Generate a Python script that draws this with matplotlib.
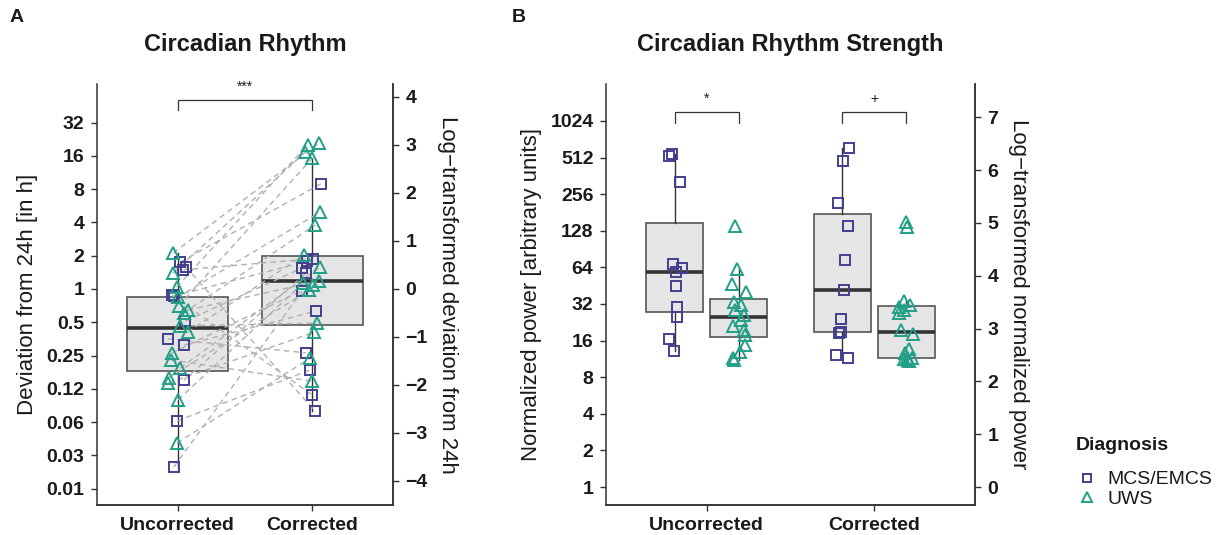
import numpy as np
import matplotlib
matplotlib.use('Agg')
import matplotlib.pyplot as plt
from matplotlib.lines import Line2D
from matplotlib import cbook

plt.rcParams['font.family'] = ['Liberation Sans', 'DejaVu Sans']

# ------------------------------------------------------------------ data
conditions = ['Uncorrected', 'Corrected']
diagnoses = ['MCS/EMCS', 'UWS']

# Panel A: log-transformed (ln) deviation from 24h, one entry per patient
a_diagnosis = ['MCS/EMCS'] * 11 + ['UWS'] * 16
a_uncorrected = [0.56, 0.46, 0.40, -0.13, -0.15, -0.67, -1.04, -1.17, -1.90, -2.75, -3.71,
                 0.75, 0.33, 0.04, -0.17, -0.35, -0.44, -0.50, -0.77, -0.90, -1.33,
                 -1.48, -1.65, -1.85, -1.96, -2.31, -3.21]
a_corrected = [2.19, -2.54, 0.63, -2.21, 0.58, 0.44, -1.33, -0.46, 0.33, -1.69, -0.04,
               3.04, 2.85, 3.00, 1.60, 2.73, 0.17, 1.33, -0.71, 0.71, 0.08,
               -1.92, 0.46, -0.02, -0.90, 0.13, -1.44]
# Panel A box statistics (ln), [Uncorrected, Corrected]
a_box_q1 = [-1.71, -0.75]
a_box_median = [-0.81, 0.17]
a_box_q3 = [-0.17, 0.69]
a_box_whislo = [-3.71, -2.54]
a_box_whishi = [0.75, 2.73]
a_left_ticks = [-6, -5, -4, -3, -2, -1, 0, 1, 2, 3, 4, 5]           # log2 exponents
a_left_labels = ['0.01', '0.03', '0.06', '0.12', '0.25', '0.5', '1', '2', '4', '8', '16', '32']
a_right_ticks = [-4, -3, -2, -1, 0, 1, 2, 3, 4]
a_signif = '***'

# Panel B: log-transformed (ln) normalized power
b_uncorrected_mcs = [6.30, 6.26, 5.78, 4.22, 4.14, 4.07, 3.81, 3.41, 3.21, 2.81, 2.58]
b_uncorrected_uws = [4.94, 4.12, 3.84, 3.70, 3.51, 3.45, 3.35, 3.25, 3.17, 3.05, 2.98,
                     2.88, 2.69, 2.56, 2.45, 2.40]
b_corrected_mcs = [6.42, 6.17, 5.38, 4.94, 4.30, 3.73, 3.18, 2.94, 2.92, 2.50, 2.45]
b_corrected_uws = [5.02, 4.93, 3.53, 3.45, 3.41, 3.35, 3.29, 2.97, 2.89, 2.62, 2.53,
                   2.45, 2.44, 2.42, 2.40, 2.38]
b_left_ticks = [0, 1, 2, 3, 4, 5, 6, 7, 8, 9, 10]                     # log2 exponents
b_left_labels = ['1', '2', '4', '8', '16', '32', '64', '128', '256', '512', '1024']
b_right_ticks = [0, 1, 2, 3, 4, 5, 6, 7]
b_signif = ['*', '+']

# ------------------------------------------------------------------ style
col = {'MCS/EMCS': '#423f8e', 'UWS': '#21a087'}
mk = {'MCS/EMCS': 's', 'UWS': '^'}
ms = {'MCS/EMCS': 6.8, 'UWS': 8.6}
ink = '#333333'
txt = '#1a1a1a'
box_fill = '#e5e5e5'
box_edge = '#555555'

W, H = 1227, 535
fig = plt.figure(figsize=(W / 100, H / 100), dpi=100)


def px_axes(l, r, t, b):
    return fig.add_axes([l / W, 1 - b / H, (r - l) / W, (b - t) / H])


def style(ax):
    ax.spines['top'].set_visible(False)
    for s in ['left', 'bottom', 'right']:
        ax.spines[s].set_color(ink)
        ax.spines[s].set_linewidth(1.1)
    ax.tick_params(direction='out', length=4.5, width=1.0, color=ink,
                   labelsize=14, labelcolor=txt, pad=4.5)


def draw_boxes(ax, stats, positions, width):
    ax.bxp(stats, positions=positions, widths=width, showfliers=False,
           patch_artist=True, showcaps=False,
           boxprops=dict(facecolor=box_fill, edgecolor=box_edge, linewidth=1.2),
           medianprops=dict(color=ink, linewidth=2.6),
           whiskerprops=dict(color=ink, linewidth=1.0),
           manage_ticks=False, zorder=1)


def bracket(ax, x1, x2, y, h, label):
    ax.plot([x1, x1, x2, x2], [y - h, y, y, y - h], color=ink, lw=0.9,
            solid_joinstyle='miter', clip_on=False, zorder=4)
    ax.text((x1 + x2) / 2, y + 0.12, label, ha='center', va='bottom',
            fontsize=10, color=txt)


LN2 = np.log(2)
rng = np.random.default_rng(7)

# ------------------------------------------------------------------ panel A
axA = px_axes(97, 393, 84, 505)
style(axA)
axA.set_xlim(0.4, 2.6)
axA.set_ylim(-4.5, 4.27)

statsA = []
for i in range(2):
    statsA.append(dict(med=a_box_median[i], q1=a_box_q1[i], q3=a_box_q3[i],
                       whislo=a_box_whislo[i], whishi=a_box_whishi[i], fliers=[]))
draw_boxes(axA, statsA, [1, 2], 0.75)

n = len(a_uncorrected)
jit_u = rng.uniform(-0.075, 0.075, n)
jit_c = rng.uniform(-0.075, 0.075, n)
for i in range(n):
    axA.plot([1 + jit_u[i], 2 + jit_c[i]], [a_uncorrected[i], a_corrected[i]],
             color='#b0b0b0', lw=1.0, dashes=(4, 3), zorder=2)
for i in range(n):
    d = a_diagnosis[i]
    for x, y in ((1 + jit_u[i], a_uncorrected[i]), (2 + jit_c[i], a_corrected[i])):
        axA.plot(x, y, marker=mk[d], ms=ms[d], mfc='none', mec=col[d], mew=1.4,
                 ls='none', zorder=3)

axA.set_xticks([1, 2])
axA.set_xticklabels(conditions, fontweight='bold')
axA.set_yticks([k * LN2 for k in a_left_ticks])
axA.set_yticklabels(a_left_labels, fontweight='bold')
axA.set_ylabel('Deviation from 24h [in h]', fontsize=16, color=txt, labelpad=6)

axA2 = axA.twinx()
style(axA2)
axA2.spines['left'].set_visible(False)
axA2.set_ylim(axA.get_ylim())
axA2.set_yticks(a_right_ticks)
axA2.set_yticklabels([str(t).replace('-', '\u2212') for t in a_right_ticks], fontweight='bold')
axA2.set_ylabel('Log\u2212transformed deviation from 24h', fontsize=16, color=txt,
                rotation=-90, va='bottom', labelpad=7)

bracket(axA, 1, 2, 3.94, 0.21, a_signif)
fig.text(245 / W, 1 - 44 / H, 'Circadian Rhythm', ha='center', va='center',
         fontsize=17, fontweight='bold', color=txt)
fig.text(10 / W, 1 - 18 / H, 'A', ha='left', va='center', fontsize=14,
         fontweight='bold', color=txt)

# ------------------------------------------------------------------ panel B
axB = px_axes(606, 975, 84, 505)
style(axB)
axB.set_xlim(0.4, 2.6)
axB.set_ylim(-0.34, 7.63)

off = 0.19
groups = [(1 - off, b_uncorrected_mcs, 'MCS/EMCS'), (1 + off, b_uncorrected_uws, 'UWS'),
          (2 - off, b_corrected_mcs, 'MCS/EMCS'), (2 + off, b_corrected_uws, 'UWS')]
statsB = []
for pos, vals, d in groups:
    s = cbook.boxplot_stats(np.array(vals), whis=1.5)[0]
    s['fliers'] = []
    statsB.append(s)
draw_boxes(axB, statsB, [g[0] for g in groups], 0.34)
for pos, vals, d in groups:
    j = rng.uniform(-0.045, 0.045, len(vals))
    axB.plot(pos + j, vals, marker=mk[d], ms=ms[d], mfc='none', mec=col[d], mew=1.4,
             ls='none', zorder=3)

axB.set_xticks([1, 2])
axB.set_xticklabels(conditions, fontweight='bold')
axB.set_yticks([k * LN2 for k in b_left_ticks])
axB.set_yticklabels(b_left_labels, fontweight='bold')
axB.set_ylabel('Normalized power [arbitrary units]', fontsize=16, color=txt, labelpad=6)

axB2 = axB.twinx()
style(axB2)
axB2.spines['left'].set_visible(False)
axB2.set_ylim(axB.get_ylim())
axB2.set_yticks(b_right_ticks)
axB2.set_yticklabels([str(t) for t in b_right_ticks], fontweight='bold')
axB2.set_ylabel('Log\u2212transformed normalized power', fontsize=16, color=txt,
                rotation=-90, va='bottom', labelpad=7)

bracket(axB, 1 - off, 1 + off, 7.10, 0.21, b_signif[0])
bracket(axB, 2 - off, 2 + off, 7.10, 0.21, b_signif[1])
fig.text(790 / W, 1 - 44 / H, 'Circadian Rhythm Strength', ha='center', va='center',
         fontsize=17, fontweight='bold', color=txt)
fig.text(512 / W, 1 - 18 / H, 'B', ha='left', va='center', fontsize=14,
         fontweight='bold', color=txt)

# ------------------------------------------------------------------ legend
fig.text(1076 / W, 1 - 445 / H, 'Diagnosis', ha='left', va='center', fontsize=14,
         fontweight='bold', color=txt)
handles = [Line2D([], [], marker=mk[d], ms=ms[d] * 0.85, mfc='none', mec=col[d], mew=1.4,
                  ls='none') for d in diagnoses]
leg = fig.legend(handles, diagnoses, loc='upper left',
                 bbox_to_anchor=(1068 / W, 1 - 461 / H), frameon=False, fontsize=14,
                 handlelength=1.0, handletextpad=0.55, labelspacing=0.1, borderpad=0)
for t in leg.get_texts():
    t.set_color(txt)

fig.savefig('out.png', dpi=100)
